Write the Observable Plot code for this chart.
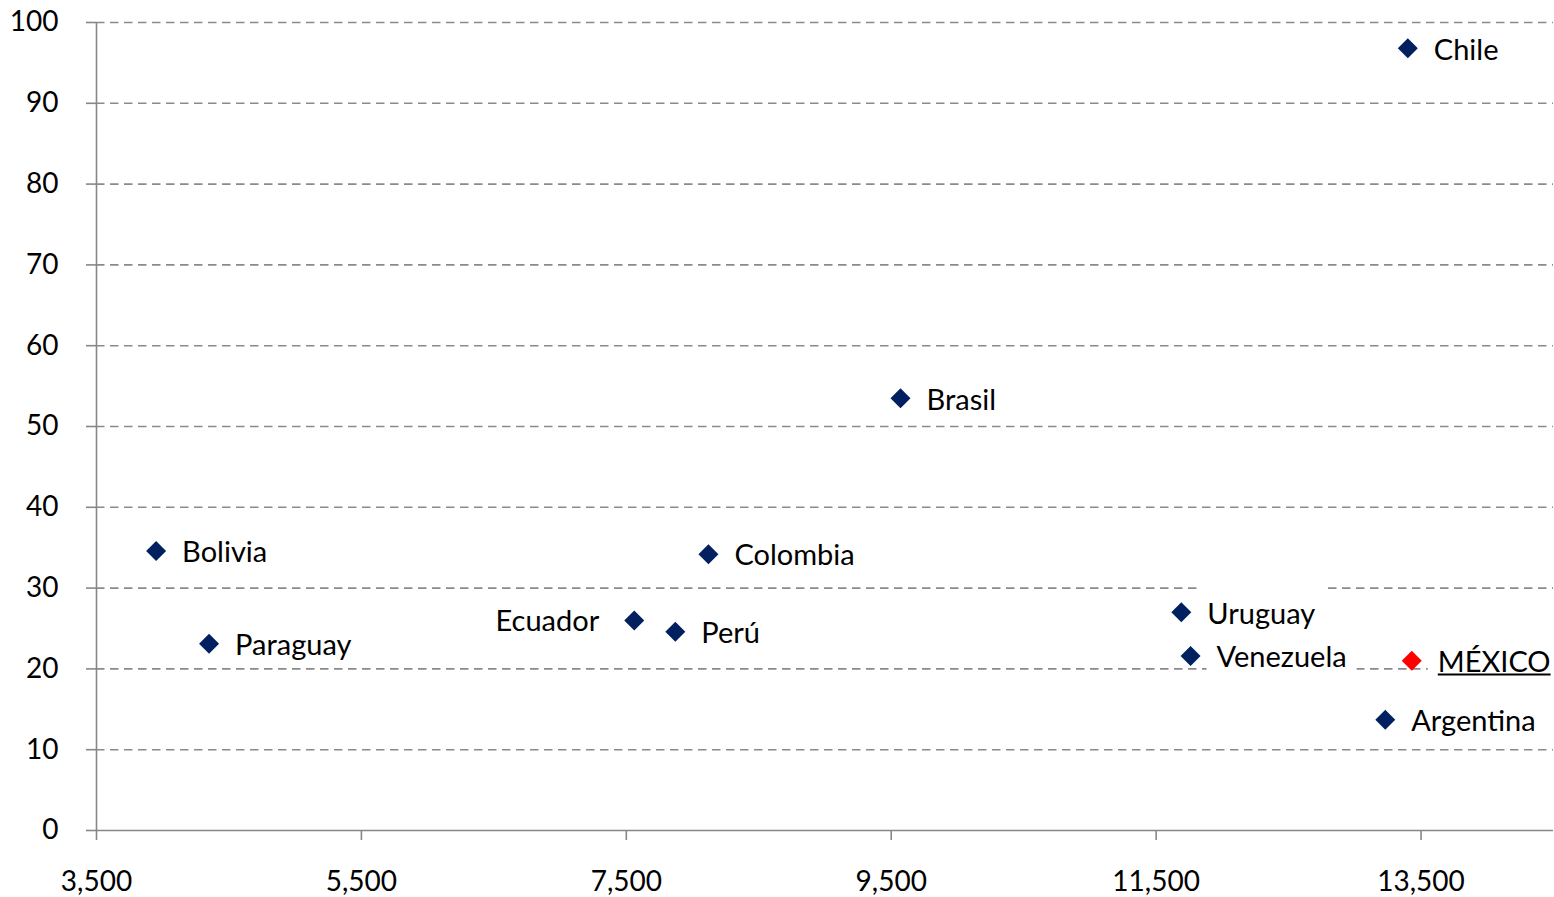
<!DOCTYPE html>
<html><head><meta charset="utf-8">
<script src="https://cdn.jsdelivr.net/npm/d3@7"></script>
<script src="https://cdn.jsdelivr.net/npm/@observablehq/plot@0.6"></script>
<style>html,body{margin:0;padding:0;background:#fff}#chart svg{display:block}</style>
</head><body><div id="chart"></div>
<script>
const countries = ["Chile","Brasil","Bolivia","Colombia","Ecuador","Perú","Paraguay","Uruguay","Venezuela","MÉXICO","Argentina"];
const xValues = [13400,9570,3950,8120,7560,7870,4350,11690,11760,13430,13230];
const yValues = [96.8,53.5,34.6,34.2,26.0,24.6,23.1,27.0,21.6,21.0,13.7];
const xTicks = [3500,5500,7500,9500,11500,13500];
const yTicks = [0,10,20,30,40,50,60,70,80,90,100];
const highlight = "MÉXICO";
const leftLabels = ["Ecuador"];
const boxedLabels = ["Uruguay","Venezuela","MÉXICO"];

const data = countries.map((name, i) => ({name, x: xValues[i], y: yValues[i]}));
const axisColor = "#878787";
const font = "Lato, 'Open Sans', sans-serif";

const chart = Plot.plot({
  width: 1554,
  height: 897,
  marginLeft: 96,
  marginRight: 1,
  marginTop: 22,
  marginBottom: 67,
  style: {fontFamily: font, fontSize: "28px", color: "#000", background: "#fff"},
  x: {domain: [3500, 14500], ticks: xTicks, tickFormat: d3.format(",")},
  y: {domain: [0, 100], ticks: yTicks},
  marks: [
    Plot.gridY(yTicks.filter(d => d > 0), {stroke: "#8a8a8a", strokeOpacity: 1, strokeWidth: 1.6, strokeDasharray: "8.5,5.5"}),
    Plot.ruleX([3500], {y1: 0, y2: 100, stroke: axisColor, strokeWidth: 1.6}),
    Plot.ruleY([0], {stroke: axisColor, strokeWidth: 1.6}),
    Plot.axisY(yTicks, {tickSize: 10, tickPadding: 28, stroke: axisColor, strokeWidth: 1.6, fill: "#000", fontSize: 28, label: null}),
    Plot.axisX(xTicks, {tickSize: 10, tickPadding: 31, stroke: axisColor, strokeWidth: 1.6, fill: "#000", fontSize: 28, tickFormat: d3.format(","), label: null}),
    Plot.dot(data, {x: "x", y: "y", symbol: "diamond2", r: 9, stroke: null,
      fill: d => d.name === highlight ? "#ff0000" : "#002060"}),
    Plot.text(data.filter(d => !leftLabels.includes(d.name)), {x: "x", y: "y", text: "name", textAnchor: "start", dx: 26, dy: 2, fontSize: 29, fill: "#000"}),
    Plot.text(data.filter(d => leftLabels.includes(d.name)), {x: "x", y: "y", text: "name", textAnchor: "end", dx: -35, dy: 1, fontSize: 29, fill: "#000"})
  ]
});
document.getElementById("chart").appendChild(chart);

// white boxes behind selected labels and underline for the highlighted one
const svgNS = "http://www.w3.org/2000/svg";
d3.select(chart).selectAll('g[aria-label="text"] text').each(function() {
  const t = this.textContent;
  const b = this.getBBox();
  const tr = this.getAttribute("transform");
  if (boxedLabels.includes(t)) {
    const r = document.createElementNS(svgNS, "rect");
    r.setAttribute("x", b.x - 10); r.setAttribute("y", b.y - 8);
    r.setAttribute("width", b.width + 20); r.setAttribute("height", b.height + 10);
    r.setAttribute("fill", "#fff");
    if (tr) r.setAttribute("transform", tr);
    this.parentNode.insertBefore(r, this);
  }
  if (t === highlight) {
    const l = document.createElementNS(svgNS, "line");
    const yy = b.y + b.height - 3.5;
    l.setAttribute("x1", b.x); l.setAttribute("x2", b.x + b.width);
    l.setAttribute("y1", yy); l.setAttribute("y2", yy);
    l.setAttribute("stroke", "#000"); l.setAttribute("stroke-width", 2);
    if (tr) l.setAttribute("transform", tr);
    this.parentNode.appendChild(l);
  }
});
</script></body></html>
